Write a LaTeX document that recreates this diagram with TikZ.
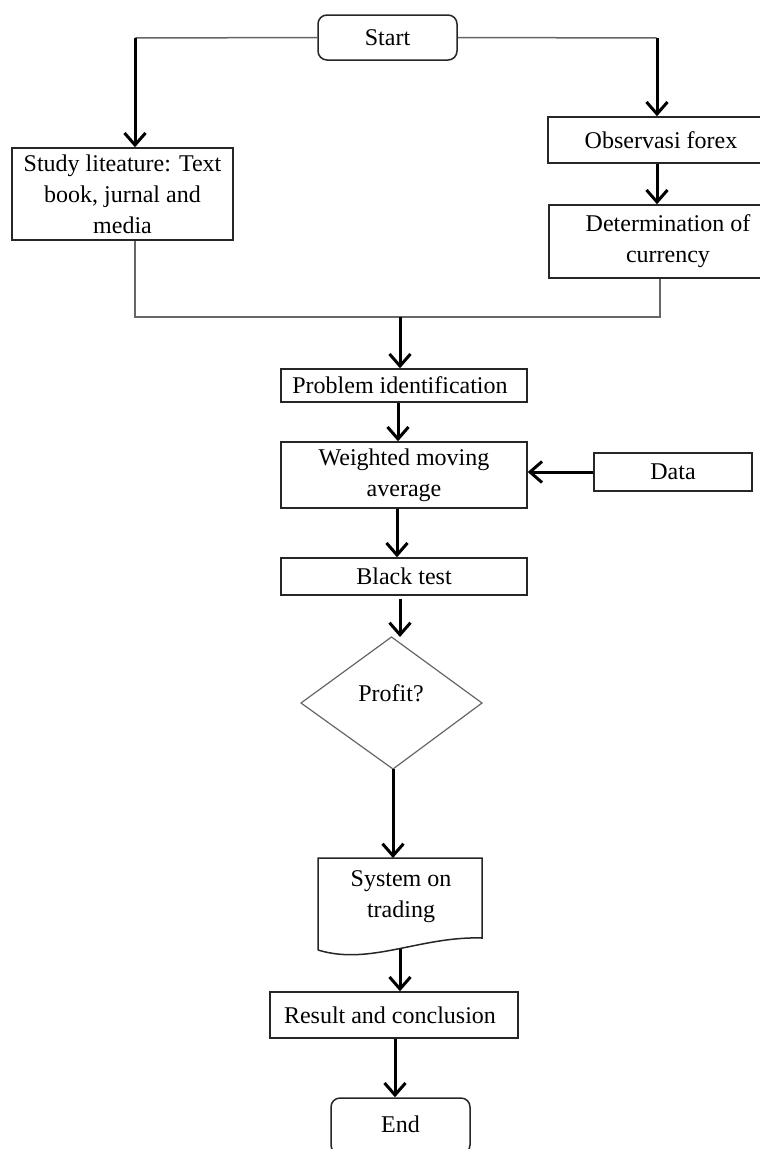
\documentclass[tikz,border=0pt]{standalone}
\usepackage{fontspec}
\setmainfont{Liberation Serif}
\usetikzlibrary{arrows.meta}
\begin{document}
\begin{tikzpicture}[x=1pt,y=-1pt,
  box/.style={draw=black!85,line width=1.5pt,inner sep=0pt,align=center,font=\fontsize{24}{31}\selectfont},
  term/.style={box,rounded corners=9pt},
  lbl/.style={inner sep=0pt,align=center,font=\fontsize{24}{31}\selectfont},
  arr/.style={line width=3pt,-{Straight Barb[length=12pt,width=21pt,line width=3pt]}},
  thinline/.style={draw=black!60,line width=1.5pt}]
\useasboundingbox (0,0) rectangle (760,1149);
\fill[white] (0,0) rectangle (760,1149);

% nodes
\node[term,minimum width=139pt,minimum height=45pt] (start) at (387.5,37.5) {Start};
\node[box,minimum width=221pt,minimum height=92pt] (study) at (122.5,194) {Study liteature: Text\\book, jurnal and\\media};
\node[box,minimum width=226pt,minimum height=46pt] (obs) at (661,140) {Observasi forex};
\node[box,minimum width=238pt,minimum height=73pt] (det) at (668,241.5) {Determination of\\currency};
\node[box,minimum width=246pt,minimum height=33pt] (prob) at (404,385.5) {\hspace*{-8pt}Problem identification};
\node[box,minimum width=246pt,minimum height=66pt] (wma) at (404,475) {Weighted moving\\average};
\node[box,minimum width=158pt,minimum height=38pt] (data) at (673,472) {Data};
\node[box,minimum width=246pt,minimum height=37pt] (black) at (404,576.5) {Black test};

% decision
\coordinate (dtop) at (391.5,637);
\coordinate (dbot) at (393,769);
\draw[draw=black!60,line width=1.2pt] (dtop) -- (482,703) -- (dbot) -- (301,703) -- cycle;
\node[lbl] (profit) at (391,693) {Profit?};

% document shape
\coordinate (doctop) at (395,858);
\coordinate (docbot) at (400,949);
\draw[draw=black!85,line width=1.5pt] (318,950) -- (318,858) -- (482,858) -- (482,938)
  .. controls (420,936) and (370,966) .. (318,950);
\node[lbl] (doc) at (401,897) {System on\\trading};

\node[box,minimum width=248pt,minimum height=46pt] (result) at (394,1015) {\hspace*{-8pt}Result and conclusion};
\node[term,minimum width=139pt,minimum height=56pt] (end) at (400.5,1126) {\raisebox{4pt}{End}};

% connectors
\coordinate (cL) at (135,38);
\coordinate (cR) at (657,38);
\draw[thinline] (start.west) -- (cL);
\draw[thinline] (start.east) -- (cR);
\draw[arr] (cL) -- (cL |- study.north);
\draw[arr] (cR) -- (cR |- obs.north);
\draw[arr] (cR |- obs.south) -- (cR |- det.north);

\coordinate (cJ) at (660,317);
\coordinate (m) at (400,317);
\draw[thinline] (cL |- study.south) |- (cJ) -- (cJ |- det.south);
\draw[arr] (m) -- (m |- prob.north);

\draw[arr] ([xshift=-6pt]prob.south) -- ([xshift=-6pt]wma.north);
\draw[arr] (data.west) -- (data.west -| wma.east);
\draw[arr] ([xshift=-7pt]wma.south) -- ([xshift=-7pt]black.north);
\draw[arr] ([xshift=-4pt,yshift=-3pt]black.south) -- ([xshift=-4pt]black.south |- dtop);
\draw[arr] (dbot) -- (dbot |- doctop);
\draw[arr] (docbot) -- (docbot |- result.north);
\draw[arr] ([xshift=1pt]result.south) -- ([xshift=1pt]result.south |- end.north);
\end{tikzpicture}
\end{document}
